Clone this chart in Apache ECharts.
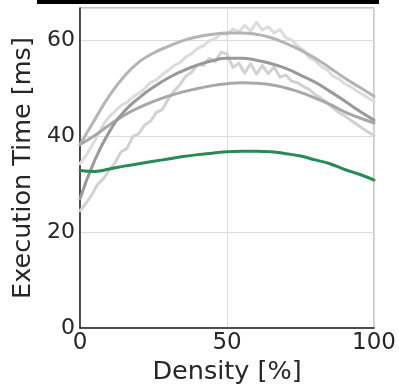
<!DOCTYPE html>
<html>
<head>
<meta charset="utf-8">
<script src="https://cdn.jsdelivr.net/npm/echarts@6/dist/echarts.min.js"></script>
<style>
  html, body { margin: 0; padding: 0; background: #fff; }
  #chart { width: 399px; height: 390px; }
</style>
</head>
<body>
<div id="chart"></div>
<script>
// Density sample points (%)
const densitySmooth = [0, 5, 10, 15, 20, 25, 30, 35, 40, 45, 50, 55, 60, 65, 70, 75, 80, 85, 90, 95, 100];
const densityFine = [0, 2, 4, 6, 8, 10, 12, 14, 16, 18, 20, 22, 24, 26, 28, 30, 32, 34, 36, 38, 40,
  42, 44, 46, 48, 50, 52, 54, 56, 58, 60, 62, 64, 66, 68, 70, 72, 74, 76, 78, 80,
  82, 84, 86, 88, 90, 92, 94, 96, 98, 100];

// Execution time (ms) of the reference runs, grey
const runUpper = [38.3, 43.5, 48.5, 52.5, 55.5, 57.4, 58.8, 60.0, 60.8, 61.3, 61.6, 61.6, 61.3, 60.6, 59.4, 58.0, 56.3, 54.3, 52.2, 50.3, 48.4];
const runFlat = [38.3, 40.2, 42.4, 44.4, 46.0, 47.3, 48.4, 49.3, 50.0, 50.6, 51.0, 51.2, 51.1, 50.8, 50.1, 49.2, 48.0, 46.7, 45.1, 43.9, 42.8];
const runSteep = [27.0, 35.0, 41.0, 45.2, 48.0, 50.3, 52.2, 53.7, 54.9, 55.8, 56.3, 56.3, 55.9, 55.2, 54.2, 52.8, 51.3, 49.4, 47.4, 45.3, 43.4];
const runNoisyHigh = [34.3, 36.0, 38.0, 40.2, 42.5, 44.2, 45.3, 46.5, 47.1, 48.2, 49.0, 50.0, 51.3, 51.8, 52.9, 53.8, 54.8, 55.4, 56.6, 57.3, 58.4,
  58.9, 60.0, 60.4, 61.5, 61.2, 62.4, 61.8, 63.2, 62.0, 63.8, 62.2, 62.9, 61.6, 62.3, 60.6, 60.1, 58.9, 58.0, 56.4, 55.8,
  54.6, 53.9, 52.6, 52.0, 51.0, 50.4, 49.5, 48.8, 48.0, 47.3];
const runNoisyLow = [24.5, 26.0, 27.8, 30.0, 31.2, 33.0, 34.6, 36.8, 37.5, 40.0, 40.6, 42.4, 43.2, 45.0, 45.6, 47.8, 49.5, 50.8, 52.6, 53.4, 55.0,
  54.8, 56.3, 55.6, 57.6, 57.2, 54.4, 55.3, 53.2, 55.2, 53.0, 54.8, 53.1, 54.5, 52.4, 52.8, 51.5, 51.2, 50.4, 49.8, 48.7,
  48.0, 47.0, 46.0, 45.0, 44.3, 43.4, 42.6, 41.7, 40.9, 40.2];

// Execution time (ms) of the highlighted run, green
const runHighlight = [32.9, 32.7, 33.2, 33.8, 34.3, 34.8, 35.3, 35.8, 36.2, 36.5, 36.8, 36.9, 36.9, 36.8, 36.4, 35.9, 35.1, 34.3, 33.1, 32.1, 30.9];

// Axis ticks
const xTicks = [0, 50, 100];
const yTicks = [0, 20, 40, 60];

const pair = (xs, ys) => xs.map((x, i) => [x, ys[i]]);

const FONT = 'DejaVu Sans';
const TEXT = '#262626';

function line(name, xs, ys, color, smooth, z) {
  return {
    name: name,
    type: 'line',
    data: pair(xs, ys),
    smooth: smooth,
    showSymbol: false,
    symbol: 'none',
    z: z,
    lineStyle: { color: color, width: 3, cap: 'round', join: 'round' },
    emphasis: { disabled: true },
    animation: false
  };
}

const chart = echarts.init(document.getElementById('chart'), null, { renderer: 'canvas' });
chart.setOption({
  animation: false,
  graphic: [{
    type: 'rect',
    shape: { x: 37, y: 0, width: 342, height: 4 },
    style: { fill: '#000' },
    z: 100
  }],
  grid: {
    left: 80, right: 23, top: 8, bottom: 59,
    show: true, borderColor: '#8a8a8a', borderWidth: 1, backgroundColor: 'transparent'
  },
  xAxis: {
    type: 'value',
    min: xTicks[0], max: xTicks[xTicks.length - 1], interval: 50,
    name: 'Density [%]',
    nameLocation: 'middle',
    nameGap: 29,
    nameTextStyle: { fontFamily: FONT, fontSize: 25.5, color: TEXT },
    axisLine: { show: true, onZero: false, lineStyle: { color: '#222', width: 1.5 } },
    axisTick: { show: false },
    axisLabel: { fontFamily: FONT, fontSize: 23, color: TEXT, margin: 3 },
    splitLine: { show: true, lineStyle: { color: '#dcdcdc', width: 1 } }
  },
  yAxis: {
    type: 'value',
    min: yTicks[0], max: 66.8, interval: 20,
    name: 'Execution Time [ms]',
    nameLocation: 'middle',
    nameGap: 36,
    nameTextStyle: { fontFamily: FONT, fontSize: 25.5, color: TEXT },
    axisLine: { show: true, onZero: false, lineStyle: { color: '#222', width: 1.5 } },
    axisTick: { show: false },
    axisLabel: {
      fontFamily: FONT, fontSize: 22, color: TEXT, margin: 5,
      showMaxLabel: false,
      formatter: v => (yTicks.indexOf(v) >= 0 ? String(v) : '')
    },
    splitLine: { show: true, lineStyle: { color: '#dcdcdc', width: 1 } }
  },
  series: [
    line('noisy-low', densityFine, runNoisyLow, '#d2d2d2', false, 2),
    line('noisy-high', densityFine, runNoisyHigh, '#dcdcdc', false, 2),
    line('upper', densitySmooth, runUpper, '#b4b4b4', true, 3),
    line('flat', densitySmooth, runFlat, '#a8a8a8', true, 3),
    line('steep', densitySmooth, runSteep, '#999999', true, 3),
    line('highlight', densitySmooth, runHighlight, '#2a8a56', true, 5)
  ]
});
</script>
</body>
</html>
